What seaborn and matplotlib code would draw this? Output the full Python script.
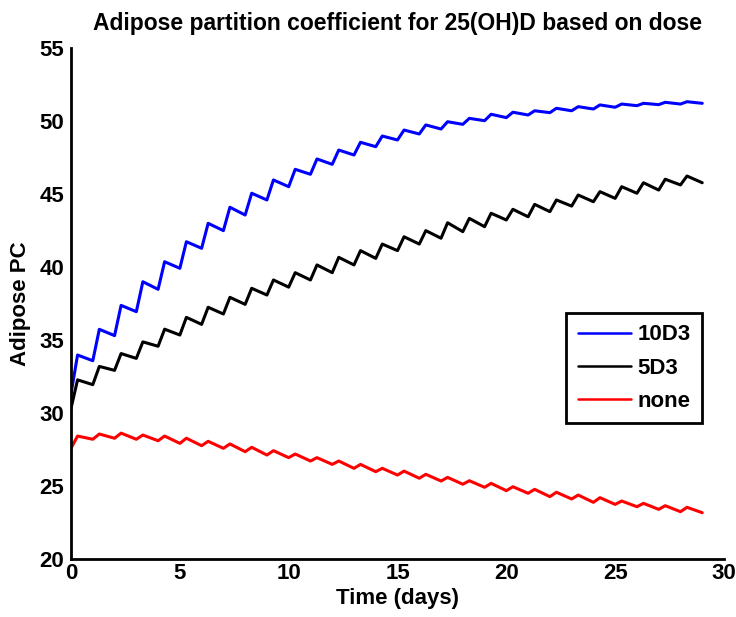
import numpy as np
import pandas as pd
import matplotlib
matplotlib.use("Agg")
import matplotlib.pyplot as plt
import seaborn as sns

# time points: each dose day and ~0.3 day after (peak)
days = [0, 0.3, 1, 1.3, 2, 2.3, 3, 3.3, 4, 4.3, 5, 5.3, 6, 6.3, 7, 7.3, 8, 8.3, 9, 9.3,
        10, 10.3, 11, 11.3, 12, 12.3, 13, 13.3, 14, 14.3, 15, 15.3, 16, 16.3, 17, 17.3,
        18, 18.3, 19, 19.3, 20, 20.3, 21, 21.3, 22, 22.3, 23, 23.3, 24, 24.3, 25, 25.3,
        26, 26.3, 27, 27.3, 28, 28.3, 29]

pc_10d3 = [31.3, 33.95, 33.56, 35.71, 35.28, 37.35, 36.92, 38.97, 38.45, 40.34,
           39.89, 41.71, 41.26, 42.97, 42.47, 44.07, 43.54, 45.03, 44.57, 45.94,
           45.48, 46.67, 46.33, 47.38, 47.01, 47.99, 47.65, 48.52, 48.22, 48.95,
           48.68, 49.36, 49.09, 49.71, 49.43, 49.93, 49.75, 50.16, 50.00, 50.44,
           50.21, 50.58, 50.39, 50.68, 50.55, 50.85, 50.68, 50.96, 50.80, 51.08,
           50.92, 51.14, 51.03, 51.19, 51.10, 51.26, 51.14, 51.30, 51.19]

pc_5d3 = [30.3, 32.25, 31.92, 33.17, 32.90, 34.05, 33.72, 34.85, 34.55, 35.72,
          35.32, 36.53, 36.05, 37.22, 36.76, 37.90, 37.42, 38.52, 38.06, 39.09,
          38.60, 39.59, 39.09, 40.12, 39.59, 40.64, 40.12, 41.10, 40.57, 41.55,
          41.10, 42.05, 41.55, 42.47, 41.95, 43.01, 42.40, 43.31, 42.74, 43.66,
          43.20, 43.93, 43.42, 44.27, 43.77, 44.57, 44.15, 44.91, 44.45, 45.14,
          44.68, 45.48, 45.03, 45.75, 45.25, 45.99, 45.60, 46.21, 45.75]

pc_none = [27.56, 28.40, 28.18, 28.54, 28.25, 28.60, 28.18, 28.47, 28.08, 28.40,
           27.90, 28.25, 27.74, 28.04, 27.56, 27.86, 27.33, 27.63, 27.10, 27.40,
           26.92, 27.17, 26.69, 26.92, 26.46, 26.69, 26.19, 26.46, 25.96, 26.19,
           25.73, 26.00, 25.51, 25.78, 25.32, 25.57, 25.10, 25.34, 24.89, 25.16,
           24.66, 24.93, 24.48, 24.75, 24.25, 24.55, 24.09, 24.36, 23.86, 24.18,
           23.72, 23.95, 23.56, 23.79, 23.38, 23.63, 23.22, 23.52, 23.15]

series_names = ["10D3", "5D3", "none"]
series_colors = ["#0000ff", "#000000", "#ff0000"]
x_ticks = [0, 5, 10, 15, 20, 25, 30]
y_ticks = [20, 25, 30, 35, 40, 45, 50, 55]

df = pd.concat([
    pd.DataFrame({"Time": days, "PC": vals, "Dose": name})
    for name, vals in zip(series_names, [pc_10d3, pc_5d3, pc_none])
], ignore_index=True)

sns.set_style("white")
plt.rcParams["font.family"] = ["Liberation Sans", "DejaVu Sans"]
plt.rcParams["font.weight"] = "bold"
for k in ["text.color", "axes.labelcolor", "xtick.color", "ytick.color", "axes.edgecolor"]:
    plt.rcParams[k] = "black"

FS = 16

fig = plt.figure(figsize=(7.36, 6.17), dpi=100)
ax = fig.add_axes([0.0965, 0.0945, 0.8872, 0.8282])

sns.lineplot(data=df, x="Time", y="PC", hue="Dose", hue_order=series_names,
             palette=dict(zip(series_names, series_colors)), estimator=None,
             sort=False, linewidth=2.2, ax=ax)

ax.set_xlim(0, 30)
ax.set_ylim(20, 55)
ax.set_xticks(x_ticks)
ax.set_yticks(y_ticks)
ax.tick_params(direction="in", length=5, width=1.8, labelsize=FS)
ax.tick_params(axis="x", pad=3)
ax.tick_params(axis="y", pad=5)
for lab in ax.get_xticklabels() + ax.get_yticklabels():
    lab.set_fontweight("bold")
for side in ["top", "right"]:
    ax.spines[side].set_visible(False)
for side in ["left", "bottom"]:
    ax.spines[side].set_linewidth(2)
    ax.spines[side].set_color("black")

ax.set_xlabel("Time (days)", fontsize=FS, fontweight="bold", labelpad=3)
ax.set_ylabel("Adipose PC", fontsize=FS, fontweight="bold", labelpad=6)
ax.set_title("Adipose partition coefficient for 25(OH)D based on dose",
             fontsize=16.5, fontweight="bold", pad=13)

leg = ax.legend(loc="center right", bbox_to_anchor=(0.983, 0.373), fontsize=FS,
                handlelength=2.4, handletextpad=0.3, borderpad=0.5,
                labelspacing=0.55, fancybox=False, framealpha=1)
leg.get_frame().set_edgecolor("black")
leg.get_frame().set_linewidth(2)
for t in leg.get_texts():
    t.set_fontweight("bold")
for h in leg.get_lines():
    h.set_linewidth(1.8)

fig.savefig("out.png", dpi=100)
